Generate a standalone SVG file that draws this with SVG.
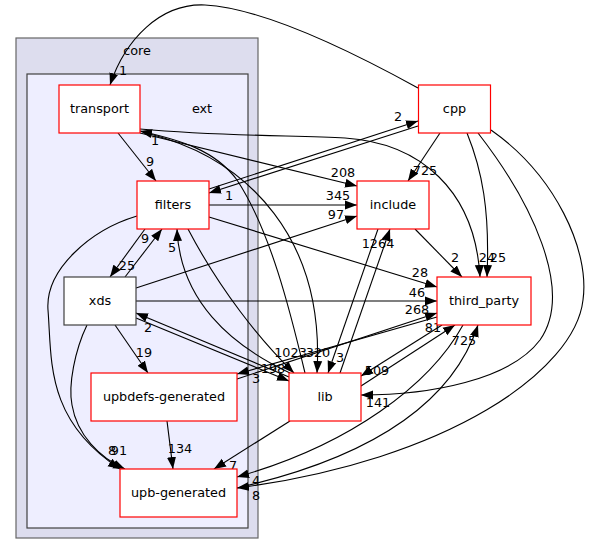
<svg xmlns="http://www.w3.org/2000/svg" width="589" height="554" viewBox="0 0 589 554">
<defs>
<marker id="ah" markerUnits="userSpaceOnUse" markerWidth="13" markerHeight="10" viewBox="0 0 13 10" refX="12" refY="5" orient="auto">
<path d="M0,0.5 L12,5 L0,9.5 z" fill="#000"/>
</marker>
<style>
text{font-family:"DejaVu Sans","Liberation Sans",sans-serif;fill:#000}
.n{font-size:12.8px;text-anchor:middle}
.l{font-size:12.8px;text-anchor:middle}
.box{fill:#fff;stroke:#ff0000;stroke-width:1.2}
.boxk{fill:#fff;stroke:#404040;stroke-width:1.2}
.e path{fill:none;stroke:#000;stroke-width:1.1;marker-end:url(#ah)}
</style>
</defs>
<rect width="589" height="554" fill="#fff"/>
<g id="cluster-core">
<rect x="16" y="38" width="242" height="500" fill="#ddddee" stroke="#666" stroke-width="1.2"/>
<text class="n" x="137" y="54.5">core</text>
</g>
<g id="cluster-ext">
<rect x="27" y="74" width="221" height="454" fill="#eeeeff" stroke="#404040" stroke-width="1.2"/>
<text class="n" x="202" y="112.5">ext</text>
</g>
<g id="edges" class="e">
<path d="M418,88 C340,45 260,8 205,5 C160,3 125,40 110,85"/>
<path d="M118,133 L156,181"/>
<path d="M209,189 L418,121"/>
<path d="M418,126 L209,193"/>
<path d="M140,133 L357,186"/>
<path d="M209,205 L357,205"/>
<path d="M136,288 L357,216"/>
<path d="M440,133 L408,181"/>
<path d="M340,373 L390,229"/>
<path d="M378,229 L328,373"/>
<path d="M415,229 L462,277"/>
<path d="M140,129 C230,137 300,135 345,138 C420,143 475,190 480,277"/>
<path d="M467,133 C482,170 490,210 487,277"/>
<path d="M209,217 L437,287"/>
<path d="M136,301 L437,301"/>
<path d="M237,379 L437,313"/>
<path d="M437,317 L237,374"/>
<path d="M361,386 L455,325"/>
<path d="M442,325 L361,376"/>
<path d="M478,133 C530,200 575,290 540,340 C510,380 430,395 361,395"/>
<path d="M491,130 C555,175 590,250 583,300 C575,370 450,460 237,488"/>
<path d="M463,325 C430,385 350,445 237,477"/>
<path d="M237,488 C360,460 450,410 478,325"/>
<path d="M290,421 L214,469"/>
<path d="M167,421 L173,469"/>
<path d="M115,325 L148,373"/>
<path d="M145,229 L110,277"/>
<path d="M125,277 L162,229"/>
<path d="M137,216 C90,230 45,270 48,310 C52,360 45,420 120,469"/>
<path d="M87,325 C75,350 68,385 72,405 C77,435 100,458 125,469"/>
<path d="M136,318 L289,381"/>
<path d="M289,377 L136,313"/>
<path d="M188,229 C220,290 260,340 294,373"/>
<path d="M290,373 C230,345 180,300 177,229"/>
<path d="M150,134 C250,160 325,240 317,373"/>
<path d="M305,373 C290,310 270,230 237,180 C215,150 180,140 140,131"/>
</g>
<g id="edge-labels">
<text class="l" x="123" y="75">1</text>
<text class="l" x="150" y="166">9</text>
<text class="l" x="398" y="121">2</text>
<text class="l" x="229" y="200">1</text>
<text class="l" x="343" y="177">208</text>
<text class="l" x="338" y="200">345</text>
<text class="l" x="336" y="219">97</text>
<text class="l" x="425" y="175">725</text>
<text class="l" x="378" y="248">1264</text>
<text class="l" x="340" y="362">3</text>
<text class="l" x="455" y="262">2</text>
<text class="l" x="487" y="262">24</text>
<text class="l" x="498" y="262">25</text>
<text class="l" x="420" y="277">28</text>
<text class="l" x="417" y="297">46</text>
<text class="l" x="417" y="314">268</text>
<text class="l" x="256" y="383">3</text>
<text class="l" x="433" y="332">81</text>
<text class="l" x="377" y="375">509</text>
<text class="l" x="378" y="407">141</text>
<text class="l" x="256" y="500">8</text>
<text class="l" x="256" y="485">4</text>
<text class="l" x="464" y="345">725</text>
<text class="l" x="233" y="470">7</text>
<text class="l" x="180" y="453">134</text>
<text class="l" x="144" y="357">19</text>
<text class="l" x="127" y="270">25</text>
<text class="l" x="145" y="243">9</text>
<text class="l" x="119" y="455">91</text>
<text class="l" x="112" y="455">8</text>
<text class="l" x="273" y="373">198</text>
<text class="l" x="148" y="332">2</text>
<text class="l" x="290.5" y="357">1023</text>
<text class="l" x="318" y="357">320</text>
<text class="l" x="172" y="252">5</text>
<text class="l" x="155" y="145">1</text>
</g>
<g id="node-transport"><rect class="box" x="59" y="85" width="81" height="48"/><text class="n" x="99.5" y="112.5">transport</text></g>
<g id="node-filters"><rect class="box" x="137" y="181" width="72" height="48"/><text class="n" x="173" y="208.5">filters</text></g>
<g id="node-xds"><rect class="boxk" x="64" y="277" width="72" height="48"/><text class="n" x="100" y="304.5">xds</text></g>
<g id="node-upbdefs-generated"><rect class="box" x="91" y="373" width="146" height="48"/><text class="n" x="164" y="400.5">upbdefs-generated</text></g>
<g id="node-upb-generated"><rect class="box" x="120" y="469" width="117" height="48"/><text class="n" x="178.5" y="496.5">upb-generated</text></g>
<g id="node-cpp"><rect class="box" x="418.5" y="85" width="72" height="48"/><text class="n" x="454.5" y="112.5">cpp</text></g>
<g id="node-include"><rect class="box" x="357" y="181" width="72" height="48"/><text class="n" x="393" y="208.5">include</text></g>
<g id="node-third_party"><rect class="box" x="437" y="277" width="94" height="48"/><text class="n" x="484" y="304.5">third_party</text></g>
<g id="node-lib"><rect class="box" x="289" y="373" width="72" height="48"/><text class="n" x="325" y="400.5">lib</text></g>
</svg>
